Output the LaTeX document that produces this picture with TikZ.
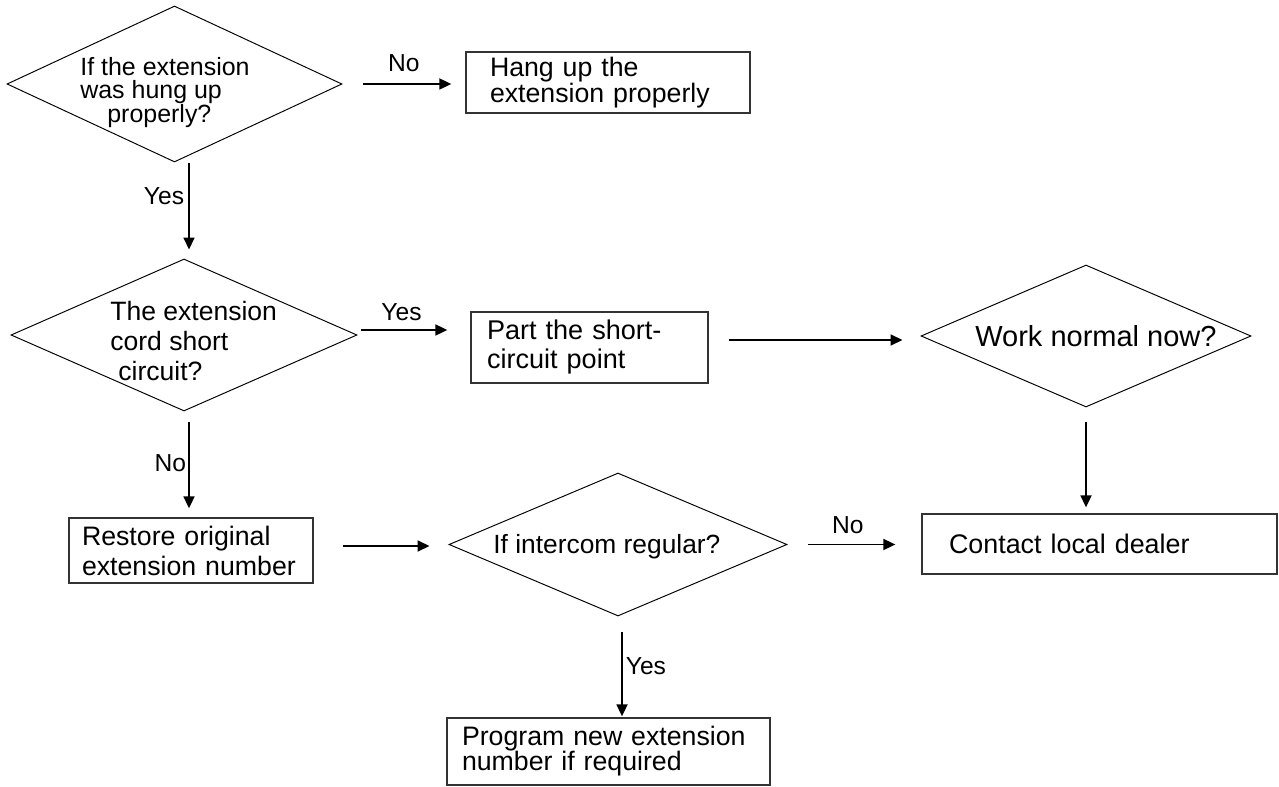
\documentclass[tikz,border=0pt]{standalone}
\usepackage{fontspec}
\setmainfont{Liberation Sans}
\usetikzlibrary{shapes.geometric,arrows.meta}
\newcommand{\fsz}[2]{\fontsize{#1}{#2}\selectfont\lineskiplimit=-50pt}

\begin{document}
\begin{tikzpicture}[
  box/.style={draw=black!80, line width=0.75pt, align=left, inner ysep=0pt},
  decision/.style={diamond, draw, line width=0.55pt, inner sep=0pt},
  qtext/.style={anchor=west, inner sep=0pt, align=left},
  lbl/.style={inner sep=0pt, font=\fsz{14}{14}},
  arrow/.style={->, line width=1pt, >={Triangle[length=0.24cm, width=0.22cm]}}
]
\useasboundingbox (0,0) rectangle (25.58,-15.74);

% decisions
\node[decision, minimum width=6.70cm, minimum height=3.12cm] (q1) at (3.49,-1.68) {};
\node[decision, minimum width=6.92cm, minimum height=3.04cm] (q2) at (3.68,-6.70) {};
\node[decision, minimum width=6.60cm, minimum height=2.84cm] (q3) at (21.72,-6.72) {};
\node[decision, minimum width=6.76cm, minimum height=2.86cm] (q4) at (12.36,-10.89) {};
\node[qtext, font=\fsz{14.2}{13.2}] (q1t) at (1.60,-1.85) {If the extension\\was hung up\\\hspace*{0.54cm}properly?};
\node[qtext, font=\fsz{15.1}{16.8}] (q2t) at (2.20,-6.82) {The extension\\cord short\\\hspace*{0.16cm}circuit?};
\node[qtext, font=\fsz{16.5}{16.5}] (q3t) at (19.50,-6.72) {Work normal now?};
\node[qtext, font=\fsz{15}{15}] (q4t) at (9.86,-10.93) {If intercom regular?};

% actions
\node[box, font=\fsz{15.2}{14.8}, text width=4.72cm, inner xsep=0.48cm, minimum height=1.22cm] (b1) at (12.16,-1.65) {Hang up the\\extension properly};
\node[box, font=\fsz{15.4}{16.5}, text width=4.10cm, inner xsep=0.32cm, minimum height=1.42cm] (b2) at (11.79,-6.95) {Part the short-\\circuit point};
\node[box, font=\fsz{15.2}{17.1}, text width=4.36cm, inner xsep=0.26cm, minimum height=1.30cm] (b3) at (3.82,-11.01) {Restore original\\extension number};
\node[box, font=\fsz{15.3}{15.3}, text width=6.02cm, inner xsep=0.54cm, minimum height=1.20cm] (b4) at (21.99,-10.88) {Contact local dealer};
\node[box, font=\fsz{15.2}{14.2}, text width=5.86cm, inner xsep=0.30cm, minimum height=1.34cm] (b5) at (12.17,-15.03) {Program new extension\\number if required};

% connectors
\draw[arrow, shorten <=0.42cm, shorten >=0.28cm] (q1.east) -- (q1.east -| b1.west) node[lbl, midway, above=0.22cm] {No};
\draw[arrow, shorten <=0.02cm, shorten >=0.18cm] ([xshift=0.1cm]q2.north |- q1.south) -- ([xshift=0.1cm]q2.north) node[lbl, pos=0.35, left=0.08cm] {Yes};
\draw[arrow, shorten <=0.08cm, shorten >=0.46cm] ([yshift=0.1cm]q2.east) -- ([yshift=0.1cm]q2.east -| b2.west) node[lbl, pos=0.39, above=0.16cm] {Yes};
\draw[arrow, shorten <=0.22cm, shorten >=0.18cm] ([xshift=0.1cm]q2.south) -- ([xshift=0.1cm]q2.south |- b3.north) node[lbl, pos=0.49, left=0.04cm] {No};
\draw[arrow, shorten <=0.40cm, shorten >=0.36cm] ([yshift=0.15cm]b2.east) -- ([yshift=0.15cm]b2.east -| q3.west);
\draw[arrow, shorten <=0.30cm, shorten >=0.12cm] (q3.south) -- (q3.south |- b4.north);
\draw[arrow, shorten <=0.58cm, shorten >=0.38cm] ([yshift=0.09cm]b3.east) -- ([yshift=0.09cm]b3.east -| q4.west);
\draw[arrow, shorten <=0.42cm, shorten >=0.52cm] (q4.east) -- (q4.east -| b4.west) node[lbl, pos=0.45, above=0.2cm] {No};
\draw[arrow, shorten <=0.32cm, shorten >=0.02cm] ([xshift=0.08cm]q4.south) -- ([xshift=0.08cm]q4.south |- b5.north) node[lbl, pos=0.49, right=0.06cm] {Yes};
\end{tikzpicture}
\end{document}
